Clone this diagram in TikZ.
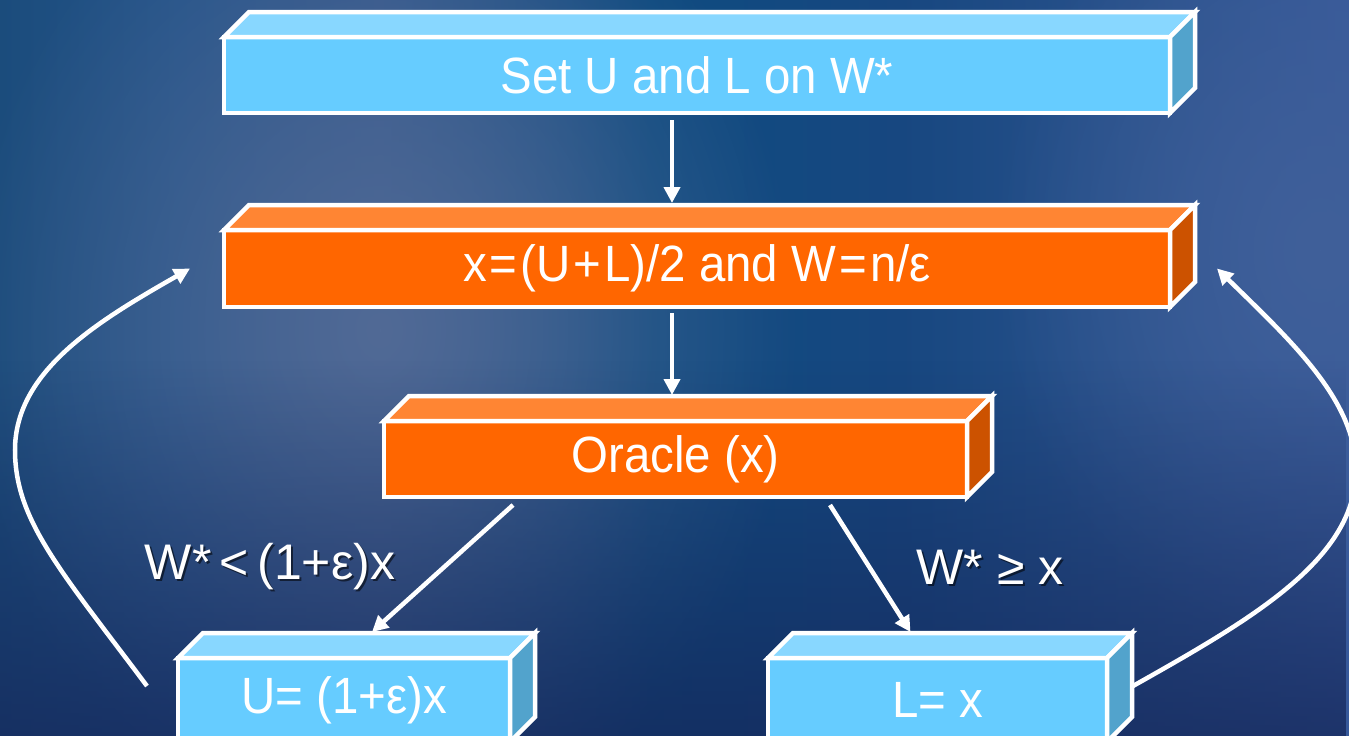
\documentclass[tikz,border=0pt]{standalone}
\usepackage{fontspec}
\setmainfont{Liberation Sans}
\newfontfamily\boxfont[FakeStretch=0.93]{Liberation Sans}
\usetikzlibrary{arrows.meta,calc,fadings}

\definecolor{bgA}{HTML}{1B4C7C}
\definecolor{bgB}{HTML}{24548A}
\definecolor{bgC}{HTML}{33588C}
\definecolor{bgD}{HTML}{0E4B80}
\definecolor{bgE}{HTML}{174780}
\definecolor{bgF}{HTML}{2A528C}
\definecolor{bgG}{HTML}{37599A}
\definecolor{bgLight}{HTML}{516A96}
\definecolor{bgLightR}{HTML}{40609A}
\definecolor{bgDark}{HTML}{15275A}
\definecolor{bluefront}{HTML}{66CCFF}
\definecolor{bluetop}{HTML}{88D7FF}
\definecolor{blueside}{HTML}{52A3CC}
\definecolor{orfront}{HTML}{FF6600}
\definecolor{ortop}{HTML}{FF8533}
\definecolor{orside}{HTML}{CC5200}

\tikzfading[name=softspot, inner color=transparent!0, outer color=transparent!100]

\tikzset{
  face/.style={draw=white, line width=4.5pt, line join=miter},
  front/.style={face, rectangle, inner sep=0pt, outer sep=0pt, text=white,
    font=\boxfont\fontsize{51}{58}\selectfont},
  bluebox/.style={front, fill=bluefront},
  orbox/.style={front, fill=orfront},
  arr/.style={draw=white, line width=4.5pt,
    -{Triangle[length=16pt,width=16pt]}},
  lbl/.style={text=white, font=\fontsize{50}{58}\selectfont, inner sep=0pt},
  lblshadow/.style={lbl, text=black, opacity=0.55}
}

% top and right faces of a box drawn behind a front face node
\newcommand\cubefaces[3]{%
  \filldraw[face, fill=#2] (#1.north west) -- ++(25,-25)
    -- ($(#1.north east)+(25,-25)$) -- (#1.north east) -- cycle;
  \filldraw[face, fill=#3] (#1.north east) -- ++(25,-25)
    -- ($(#1.south east)+(25,-25)$) -- (#1.south east) -- cycle;}

\newcommand\op[1]{\hspace{3pt}#1\hspace{3pt}}

\begin{document}
\begin{tikzpicture}[x=1pt, y=-1pt]
\useasboundingbox (0,0) rectangle (1349,736);
\clip (0,0) rectangle (1349,736);

% background
\shade[left color=bgA, right color=bgB] (0,0) rectangle (180,736);
\shade[left color=bgB, right color=bgC] (180,0) rectangle (380,736);
\shade[left color=bgC, right color=bgD] (380,0) rectangle (650,736);
\shade[left color=bgD, right color=bgE] (650,0) rectangle (900,736);
\shade[left color=bgE, right color=bgF] (900,0) rectangle (1150,736);
\shade[left color=bgF, right color=bgG] (1150,0) rectangle (1349,736);
\fill[bgLight, path fading=softspot] (380,330) ellipse (420 and 520);
\fill[bgLightR, path fading=softspot] (1320,250) ellipse (330 and 420);
\fill[bgDark, opacity=0.75, path fading=north] (0,360) rectangle (1349,736);

% boxes
\node[bluebox, minimum width=946pt, minimum height=76pt] (set) at (697,75) {Set U and L on W*};
\cubefaces{set}{bluetop}{blueside}
\node[orbox, minimum width=946pt, minimum height=77pt] (calc) at (697,268.5) {x\op{=}(U\op{+}L)/2 and W\op{=}n/ε};
\cubefaces{calc}{ortop}{orside}
\node[orbox, minimum width=583pt, minimum height=76pt] (oracle) at (675.5,459) {Oracle (x)};
\cubefaces{oracle}{ortop}{orside}
\node[bluebox, minimum width=332pt, minimum height=84pt] (upd) at (344,700) {U= (1+ε)x};
\cubefaces{upd}{bluetop}{blueside}
\node[bluebox, minimum width=339pt, minimum height=84pt] (low) at (937.5,700) {L= x};
\cubefaces{low}{bluetop}{blueside}

% branch labels
\node[lblshadow] (lblUs) at (272,569) {W*\,<\,(1+ε)x};
\node[lbl] (lblU) at (270,567) {W*\,<\,(1+ε)x};
\node[lblshadow] (lblLs) at (992,569) {W* ≥ x};
\node[lbl] (lblL) at (990,567) {W* ≥ x};

% connectors
\draw[arr] ($(set.south)+(-25,7)$) -- ($(calc.north)+(-25,-27)$);
\draw[arr] ($(calc.south)+(-25,6)$) -- ($(oracle.north)+(-3.5,-26)$);
\draw[arr] ($(oracle.south west)+(129,8)$) -- ($(upd.north)+(28,-26)$);
\draw[arr] ($(oracle.south east)+(-137,8)$) -- ($(low.north)+(-27,-26)$);

% feedback loops
\coordinate (uOut) at ($(upd.north west)+(-31,28)$);
\coordinate (cIn) at ($(calc.west)+(-34,0)$);
\draw[arr] (uOut) .. controls (60,570) and (15,520) .. (15,450)
  .. controls (15,370) and (100,320) .. (cIn);
\coordinate (lOut) at ($(low.north east)+(26,28)$);
\coordinate (cIn2) at ($(calc.east)+(47,0)$);
\draw[arr] (lOut) .. controls (1250,620) and (1356,560) .. (1356,470)
  .. controls (1356,400) and (1290,340) .. (cIn2);
\end{tikzpicture}
\end{document}
